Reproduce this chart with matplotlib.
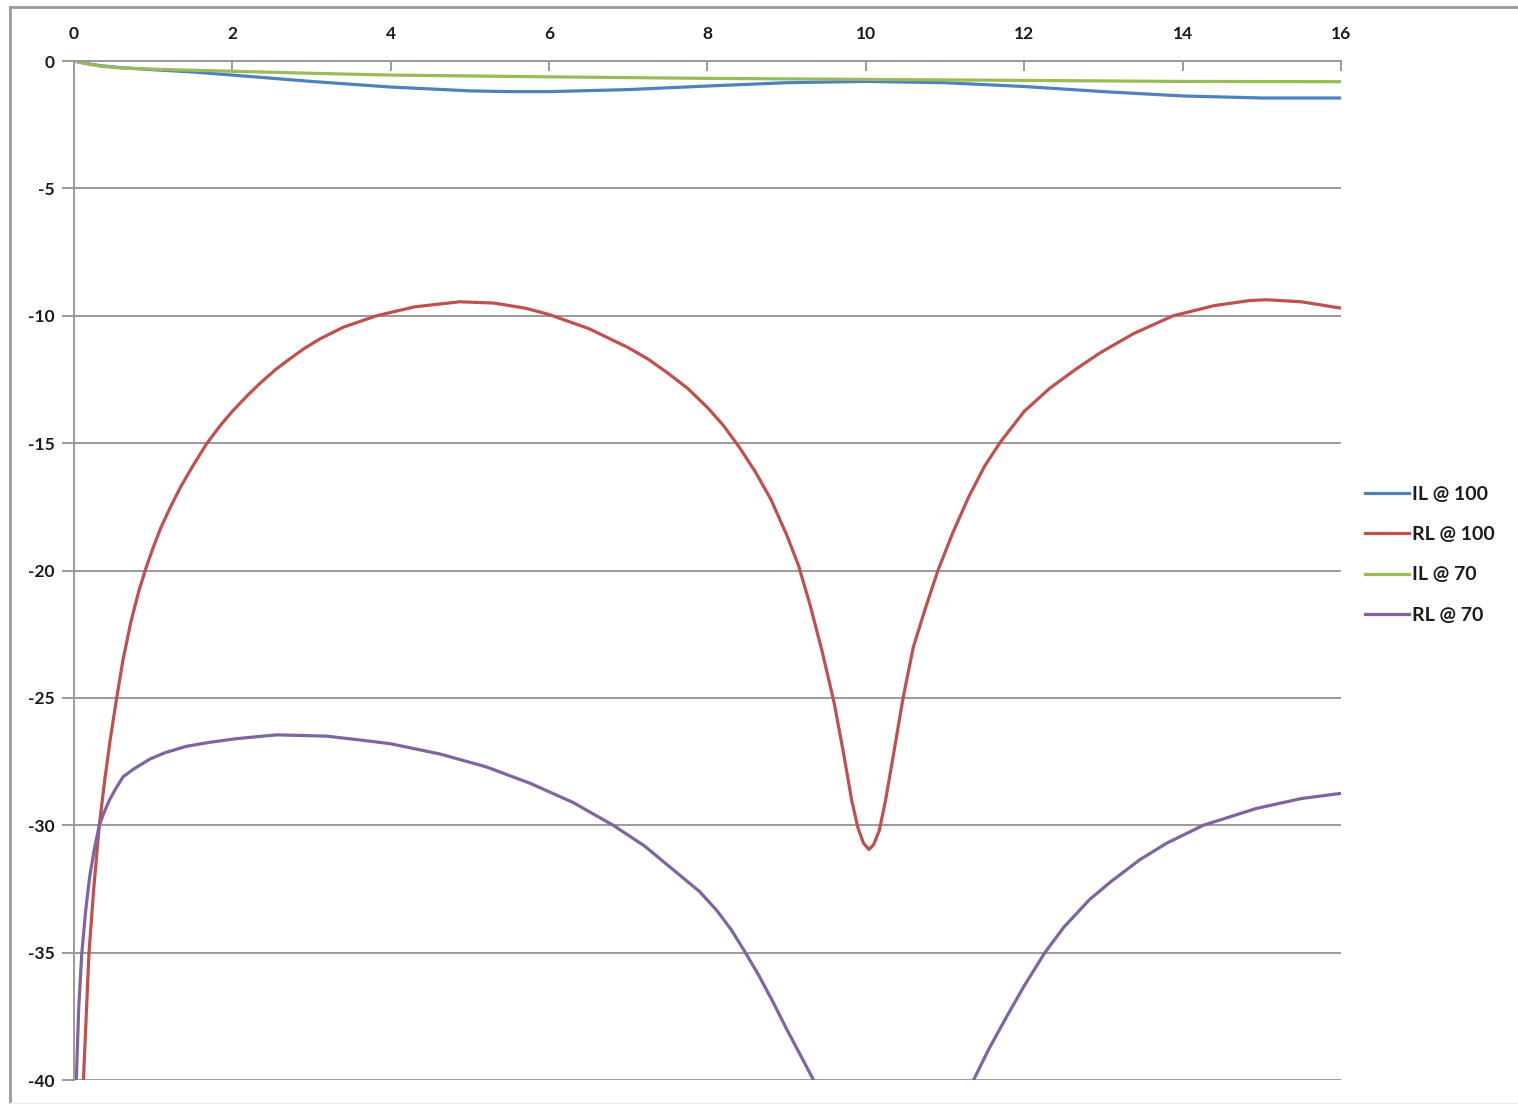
import numpy as np
import matplotlib
matplotlib.use("Agg")
import matplotlib.pyplot as plt
from matplotlib.lines import Line2D

# values
il100_x = [0, 0.15, 0.33, 0.6, 1, 1.5, 2, 3, 4, 5, 5.5, 6, 7, 8, 9, 10, 11, 12, 13, 14, 15, 16]
il100_y = [0, -0.09, -0.18, -0.26, -0.34, -0.43, -0.55, -0.8, -1.02, -1.17, -1.2, -1.2,
           -1.12, -0.98, -0.85, -0.8, -0.85, -1.0, -1.2, -1.37, -1.45, -1.45]

il70_x = [0, 0.15, 0.33, 0.6, 1, 1.5, 2, 3, 4, 6, 8, 10, 12, 14, 16]
il70_y = [0, -0.1, -0.2, -0.27, -0.32, -0.36, -0.4, -0.48, -0.55, -0.62, -0.68, -0.72,
          -0.76, -0.8, -0.81]

rl100_x = [0.12, 0.19, 0.25, 0.32, 0.39, 0.46, 0.54, 0.62, 0.72, 0.82, 0.91, 1.0, 1.1,
           1.22, 1.35, 1.5, 1.68, 1.85, 2.0, 2.2, 2.35, 2.55, 2.7, 2.9, 3.11, 3.4, 3.82,
           4.3, 4.87, 5.3, 5.7, 6.0, 6.5, 7.0, 7.25, 7.5, 7.75, 8.0, 8.2, 8.4, 8.6, 8.8,
           9.0, 9.15, 9.3, 9.45, 9.6, 9.72, 9.82, 9.9, 9.97, 10.04, 10.1, 10.17, 10.25,
           10.35, 10.47, 10.6, 10.75, 10.91, 11.1, 11.3, 11.5, 11.7, 12.0, 12.32, 12.65,
           12.96, 13.38, 13.88, 14.4, 14.85, 15.06, 15.5, 16.0]
rl100_y = [-40, -35, -32.5, -30, -28.2, -26.6, -25, -23.5, -22.0, -20.8, -19.9, -19.1, -18.3,
           -17.5, -16.7, -15.9, -15.0, -14.3, -13.75, -13.1, -12.65, -12.1, -11.75, -11.3,
           -10.9, -10.45, -10.0, -9.65, -9.45, -9.5, -9.7, -9.95, -10.5, -11.25, -11.7,
           -12.25, -12.85, -13.6, -14.3, -15.15, -16.1, -17.2, -18.6, -19.8, -21.4, -23.2,
           -25.2, -27.2, -29.0, -30.1, -30.7, -30.95, -30.75, -30.2, -29.0, -27.2, -25.0,
           -23.0, -21.5, -20.0, -18.5, -17.1, -15.9, -14.95, -13.75, -12.85, -12.1, -11.45,
           -10.7, -10.0, -9.6, -9.4, -9.37, -9.45, -9.7]

rl70_x = [0.03, 0.06, 0.10, 0.15, 0.2, 0.26, 0.32, 0.38, 0.45, 0.53, 0.62, 0.75, 0.96, 1.15,
          1.42, 1.7, 2.05, 2.56, 3.19, 3.61, 4.0, 4.62, 5.2, 5.76, 6.3, 6.81, 7.2, 7.57,
          7.9, 8.12, 8.3, 8.47, 8.65, 8.83, 9.0, 9.17, 9.34,
          10.3,
          11.36, 11.55, 11.78, 12.0, 12.26, 12.5, 12.83, 13.1, 13.46, 13.8, 14.26, 14.93,
          15.5, 15.99]
rl70_y = [-40, -37.2, -35, -33.3, -32, -30.9, -30, -29.5, -29, -28.55, -28.1, -27.8, -27.4,
          -27.15, -26.9, -26.75, -26.6, -26.45, -26.5, -26.65, -26.8, -27.2, -27.7, -28.35,
          -29.1, -30, -30.8, -31.75, -32.6, -33.35, -34.1, -34.95, -35.9, -36.95, -38.0,
          -39.0, -40,
          np.nan,
          -40, -38.8, -37.5, -36.3, -35, -34.0, -32.9, -32.2, -31.35, -30.7, -30, -29.34,
          -28.95, -28.75]

labels = ["IL @ 100", "RL @ 100", "IL @ 70", "RL @ 70"]
colors = ["#4F81BD", "#C0504D", "#9BBB59", "#8064A2"]

x_ticks = [0, 2, 4, 6, 8, 10, 12, 14, 16]
y_ticks = [0, -5, -10, -15, -20, -25, -30, -35, -40]

plt.rcParams['font.family'] = ['Lato', 'DejaVu Sans']

fig = plt.figure(figsize=(15.18, 11.04), dpi=100)
ax = fig.add_axes([0.0487, 0.0217, 0.8347, 0.9230])

series = [(il100_x, il100_y), (rl100_x, rl100_y), (il70_x, il70_y), (rl70_x, rl70_y)]
for (xs, ys), c, lab in zip(series, colors, labels):
    ax.plot(xs, ys, color=c, lw=2.3, label=lab, solid_joinstyle='round')

ax.set_xlim(0, 16)
ax.set_ylim(-40, 0)
ax.set_xticks(x_ticks)
ax.set_yticks(y_ticks)
ax.set_xticklabels([str(v) for v in x_ticks])
ax.set_yticklabels([str(v) for v in y_ticks])

grid_col = "#9a9a9a"
ax.yaxis.grid(True, color=grid_col, lw=1.4)
ax.set_axisbelow(True)

ax.xaxis.tick_top()
ax.tick_params(axis='x', direction='in', length=7, width=1.4, color=grid_col,
               pad=14, labelsize=12.5, labelcolor='#1a1a1a')
ax.tick_params(axis='y', direction='out', length=9, width=1.4, color=grid_col,
               pad=5, labelsize=12.5, labelcolor='#1a1a1a')
for lab in ax.get_xticklabels() + ax.get_yticklabels():
    lab.set_fontweight('bold')

for side in ['right', 'bottom']:
    ax.spines[side].set_visible(False)
for side in ['top', 'left']:
    ax.spines[side].set_color(grid_col)
    ax.spines[side].set_linewidth(1.4)

# legend on the right
handles = [Line2D([0], [0], color=c, lw=2.3) for c in colors]
leg = fig.legend(handles, labels, loc='center left', bbox_to_anchor=(0.899, 0.4975),
                 frameon=False, fontsize=14, handlelength=2.27, handletextpad=0.14,
                 labelspacing=1.2, borderpad=0, borderaxespad=0)
for t in leg.get_texts():
    t.set_fontweight('bold')
    t.set_color('#1a1a1a')

# outer chart frame
fig.add_artist(Line2D([10 / 1518, 1.0], [1 - 7 / 1104, 1 - 7 / 1104],
                      transform=fig.transFigure, color="#9a9a9a", lw=2))
fig.add_artist(Line2D([10 / 1518, 10 / 1518], [1 - 7 / 1104, 0.0],
                      transform=fig.transFigure, color="#9a9a9a", lw=2))
fig.add_artist(Line2D([10 / 1518, 1.0], [1.5 / 1104, 1.5 / 1104],
                      transform=fig.transFigure, color="#eeeeee", lw=1))

fig.savefig("out.png", dpi=100, facecolor='white')
